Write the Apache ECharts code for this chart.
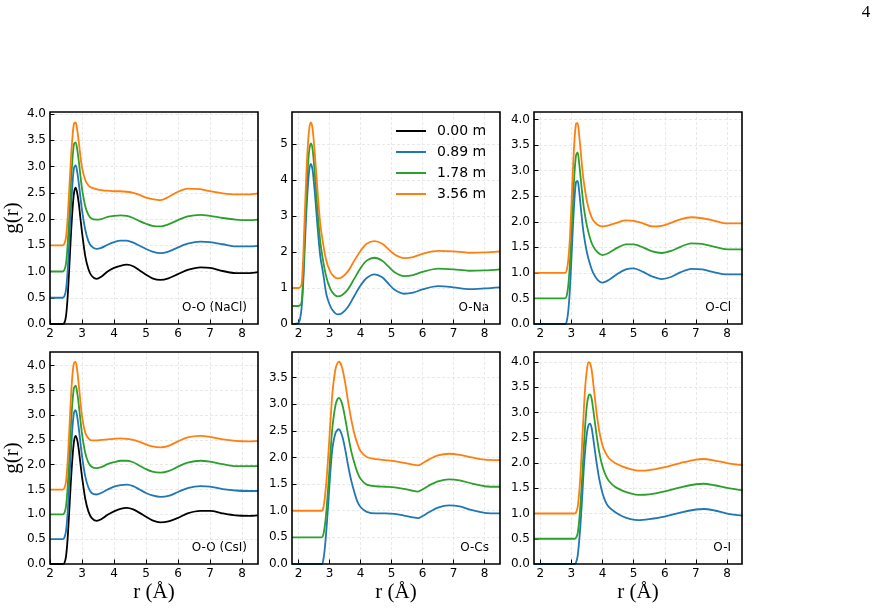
<!DOCTYPE html>
<html>
<head>
<meta charset="utf-8">
<script src="https://cdn.jsdelivr.net/npm/echarts@6/dist/echarts.min.js"></script>
<style>html,body{margin:0;padding:0;background:#fff}#c{width:878px;height:608px}</style>
</head>
<body>
<div id="c"></div>
<script>
// ---------- data ----------
const seriesNames = ['0.00 m', '0.89 m', '1.78 m', '3.56 m'];
const panelLabels = ['O-O (NaCl)', 'O-Na', 'O-Cl', 'O-O (CsI)', 'O-Cs', 'O-I'];

const rOO = [2.0, 2.4, 2.45, 2.5, 2.55, 2.6, 2.65, 2.7, 2.75, 2.8, 2.85, 2.9, 2.95, 3.0, 3.1, 3.2, 3.3, 3.45, 3.6, 3.8, 4.0, 4.2, 4.4, 4.6, 4.8, 5.0, 5.2, 5.45, 5.7, 6.0, 6.3, 6.7, 7.0, 7.4, 7.8, 8.2, 8.5];
const naclBlack = [0, 0, 0.02, 0.15, 0.5, 1.05, 1.65, 2.15, 2.5, 2.6, 2.5, 2.3, 2.02, 1.75, 1.3, 1.05, 0.92, 0.86, 0.9, 1.0, 1.07, 1.11, 1.13, 1.1, 1.02, 0.94, 0.87, 0.84, 0.87, 0.95, 1.03, 1.08, 1.07, 1.01, 0.97, 0.97, 0.99];
const naclBlue = [0.5, 0.5, 0.53, 0.65, 1.0, 1.55, 2.15, 2.65, 2.98, 3.02, 2.9, 2.68, 2.42, 2.17, 1.8, 1.58, 1.48, 1.43, 1.45, 1.51, 1.56, 1.59, 1.59, 1.55, 1.49, 1.43, 1.38, 1.35, 1.38, 1.46, 1.53, 1.57, 1.56, 1.52, 1.48, 1.48, 1.49];
const naclGreen = [1.0, 1.0, 1.03, 1.15, 1.5, 2.05, 2.65, 3.12, 3.43, 3.46, 3.33, 3.1, 2.83, 2.58, 2.25, 2.08, 2.01, 1.99, 2.0, 2.04, 2.06, 2.07, 2.06, 2.02, 1.96, 1.91, 1.87, 1.86, 1.9, 1.98, 2.05, 2.08, 2.06, 2.02, 1.99, 1.98, 1.99];
const naclOrange = [1.5, 1.5, 1.53, 1.65, 2.0, 2.55, 3.1, 3.55, 3.82, 3.84, 3.7, 3.47, 3.2, 2.98, 2.75, 2.64, 2.6, 2.57, 2.55, 2.54, 2.53, 2.53, 2.52, 2.5, 2.46, 2.41, 2.38, 2.36, 2.42, 2.52, 2.58, 2.57, 2.53, 2.49, 2.47, 2.47, 2.49];

const csiBlack = [0, 0, 0.02, 0.15, 0.5, 1.05, 1.63, 2.12, 2.47, 2.58, 2.5, 2.3, 2.03, 1.76, 1.32, 1.06, 0.93, 0.87, 0.9, 0.99, 1.06, 1.11, 1.13, 1.1, 1.03, 0.95, 0.88, 0.84, 0.86, 0.93, 1.02, 1.07, 1.07, 1.02, 0.98, 0.97, 0.98];
const csiBlue = [0.5, 0.5, 0.53, 0.66, 1.02, 1.6, 2.22, 2.73, 3.05, 3.1, 2.97, 2.73, 2.45, 2.18, 1.77, 1.54, 1.43, 1.4, 1.43, 1.5, 1.56, 1.59, 1.6, 1.57, 1.5, 1.43, 1.38, 1.35, 1.37, 1.45, 1.53, 1.57, 1.56, 1.51, 1.48, 1.47, 1.47];
const csiGreen = [1.0, 1.0, 1.03, 1.16, 1.53, 2.12, 2.75, 3.25, 3.55, 3.59, 3.45, 3.2, 2.9, 2.62, 2.24, 2.04, 1.96, 1.93, 1.95, 2.01, 2.05, 2.08, 2.08, 2.05, 1.98, 1.91, 1.86, 1.84, 1.87, 1.96, 2.04, 2.08, 2.06, 2.01, 1.97, 1.97, 1.97];
const csiOrange = [1.5, 1.5, 1.53, 1.66, 2.05, 2.65, 3.3, 3.8, 4.05, 4.07, 3.9, 3.6, 3.27, 2.98, 2.65, 2.53, 2.49, 2.49, 2.5, 2.51, 2.52, 2.53, 2.52, 2.5, 2.46, 2.41, 2.37, 2.35, 2.38, 2.47, 2.55, 2.58, 2.56, 2.51, 2.48, 2.47, 2.48];

const rNa = [1.8, 2.0, 2.05, 2.1, 2.15, 2.2, 2.25, 2.3, 2.35, 2.4, 2.45, 2.5, 2.55, 2.6, 2.7, 2.8, 2.9, 3.0, 3.1, 3.25, 3.4, 3.6, 3.8, 4.0, 4.2, 4.45, 4.7, 4.9, 5.1, 5.4, 5.7, 6.0, 6.5, 7.0, 7.5, 8.0, 8.5];
const naBlue = [0, 0.03, 0.15, 0.45, 1.1, 2.1, 3.05, 3.8, 4.3, 4.45, 4.3, 3.9, 3.4, 2.85, 1.9, 1.38, 0.82, 0.55, 0.38, 0.27, 0.3, 0.48, 0.78, 1.07, 1.28, 1.38, 1.3, 1.12, 0.95, 0.84, 0.87, 0.96, 1.05, 1.02, 0.97, 0.99, 1.02];
const naGreen = [0.5, 0.5, 0.52, 0.6, 1.3, 2.45, 3.5, 4.35, 4.85, 5.02, 4.88, 4.45, 3.9, 3.3, 2.3, 1.72, 1.3, 1.03, 0.87, 0.77, 0.8, 0.97, 1.26, 1.55, 1.76, 1.84, 1.76, 1.6, 1.44, 1.33, 1.36, 1.45, 1.54, 1.52, 1.48, 1.49, 1.52];
const naOrange = [1.0, 1.0, 1.02, 1.1, 1.8, 3.0, 4.1, 4.95, 5.45, 5.6, 5.45, 5.0, 4.45, 3.85, 2.8, 2.2, 1.75, 1.5, 1.36, 1.27, 1.3, 1.47, 1.76, 2.03, 2.23, 2.30, 2.23, 2.08, 1.93, 1.83, 1.86, 1.95, 2.03, 2.02, 1.98, 1.99, 2.02];

const rCl = [1.8, 2.5, 2.8, 2.85, 2.9, 2.95, 3.0, 3.05, 3.1, 3.15, 3.2, 3.25, 3.3, 3.35, 3.4, 3.5, 3.6, 3.7, 3.85, 4.0, 4.2, 4.5, 4.75, 5.0, 5.3, 5.6, 5.9, 6.2, 6.5, 6.85, 7.2, 7.6, 8.0, 8.5];
const clBlue = [0, 0, 0, 0.05, 0.25, 0.65, 1.25, 1.9, 2.45, 2.78, 2.8, 2.6, 2.3, 2.0, 1.75, 1.4, 1.17, 1.0, 0.86, 0.81, 0.86, 0.99, 1.07, 1.09, 1.02, 0.93, 0.88, 0.92, 1.01, 1.08, 1.07, 1.01, 0.97, 0.97];
const clGreen = [0.5, 0.5, 0.5, 0.55, 0.75, 1.15, 1.75, 2.4, 2.95, 3.3, 3.36, 3.15, 2.85, 2.55, 2.28, 1.92, 1.68, 1.52, 1.4, 1.35, 1.39, 1.5, 1.56, 1.56, 1.5, 1.42, 1.39, 1.43, 1.51, 1.58, 1.57, 1.51, 1.46, 1.46];
const clOrange = [1.0, 1.0, 1.0, 1.05, 1.25, 1.65, 2.3, 3.0, 3.6, 3.92, 3.93, 3.7, 3.38, 3.05, 2.78, 2.4, 2.17, 2.03, 1.94, 1.91, 1.93, 1.99, 2.03, 2.02, 1.97, 1.91, 1.92, 1.98, 2.05, 2.09, 2.07, 2.02, 1.97, 1.97];

const rCs = [1.8, 2.5, 2.75, 2.8, 2.85, 2.9, 2.95, 3.0, 3.05, 3.1, 3.2, 3.3, 3.4, 3.5, 3.6, 3.7, 3.8, 3.9, 4.0, 4.2, 4.5, 4.8, 5.1, 5.4, 5.65, 5.85, 6.0, 6.2, 6.5, 6.85, 7.2, 7.6, 8.0, 8.5];
const csBlue = [0, 0, 0, 0.08, 0.3, 0.65, 1.05, 1.5, 1.9, 2.2, 2.47, 2.53, 2.42, 2.17, 1.85, 1.57, 1.35, 1.17, 1.07, 0.98, 0.95, 0.95, 0.94, 0.91, 0.88, 0.86, 0.9, 0.97, 1.06, 1.10, 1.08, 1.01, 0.96, 0.95];
const csGreen = [0.5, 0.5, 0.5, 0.55, 0.72, 1.0, 1.38, 1.8, 2.25, 2.6, 3.0, 3.12, 3.02, 2.75, 2.42, 2.12, 1.9, 1.72, 1.6, 1.49, 1.46, 1.45, 1.44, 1.41, 1.38, 1.36, 1.4, 1.47, 1.55, 1.59, 1.57, 1.51, 1.46, 1.45];
const csOrange = [1.0, 1.0, 1.0, 1.05, 1.25, 1.55, 1.95, 2.4, 2.85, 3.25, 3.68, 3.80, 3.7, 3.42, 3.05, 2.72, 2.45, 2.26, 2.12, 2.01, 1.97, 1.95, 1.93, 1.9, 1.87, 1.85, 1.89, 1.96, 2.04, 2.07, 2.05, 2.0, 1.96, 1.95];

const rI = [1.8, 2.5, 3.1, 3.15, 3.2, 3.25, 3.3, 3.35, 3.4, 3.45, 3.5, 3.55, 3.6, 3.65, 3.7, 3.8, 3.9, 4.0, 4.1, 4.2, 4.4, 4.65, 4.9, 5.15, 5.5, 6.0, 6.5, 7.0, 7.25, 7.6, 8.0, 8.5];
const iBlue = [0, 0, 0, 0.03, 0.15, 0.45, 0.85, 1.35, 1.9, 2.3, 2.6, 2.75, 2.78, 2.7, 2.5, 2.05, 1.67, 1.4, 1.23, 1.13, 1.03, 0.94, 0.89, 0.87, 0.89, 0.94, 1.02, 1.08, 1.09, 1.06, 1.0, 0.96];
const iGreen = [0.5, 0.5, 0.5, 0.52, 0.6, 0.85, 1.25, 1.75, 2.3, 2.8, 3.15, 3.33, 3.36, 3.28, 3.07, 2.6, 2.2, 1.93, 1.76, 1.65, 1.53, 1.45, 1.4, 1.37, 1.38, 1.44, 1.52, 1.58, 1.59, 1.56, 1.51, 1.46];
const iOrange = [1.0, 1.0, 1.0, 1.02, 1.12, 1.4, 1.85, 2.45, 3.05, 3.55, 3.85, 4.0, 3.98, 3.85, 3.6, 3.05, 2.62, 2.35, 2.2, 2.1, 2.0, 1.93, 1.88, 1.85, 1.86, 1.92, 2.0, 2.07, 2.08, 2.05, 2.0, 1.96];

// ---------- layout / style ----------
const colors = ['#000000', '#1f77b4', '#2ca02c', '#ff7f0e'];
const panels = [
  { r: rOO, ys: [naclBlack, naclBlue, naclGreen, naclOrange], xmin: 2, xmax: 8.5, ymax: 4.04, yint: 0.5, dec: 1 },
  { r: rNa, ys: [null, naBlue, naGreen, naOrange], xmin: 1.79, xmax: 8.5, ymax: 5.89, yint: 1, dec: 0 },
  { r: rCl, ys: [null, clBlue, clGreen, clOrange], xmin: 1.8, xmax: 8.48, ymax: 4.15, yint: 0.5, dec: 1 },
  { r: rOO, ys: [csiBlack, csiBlue, csiGreen, csiOrange], xmin: 2, xmax: 8.5, ymax: 4.27, yint: 0.5, dec: 1 },
  { r: rCs, ys: [null, csBlue, csGreen, csOrange], xmin: 1.79, xmax: 8.5, ymax: 3.98, yint: 0.5, dec: 1 },
  { r: rI, ys: [null, iBlue, iGreen, iOrange], xmin: 1.8, xmax: 8.48, ymax: 4.2, yint: 0.5, dec: 1 }
];
const lefts = [50, 292, 534];
const tops = [112, 352];
const W = 208, H = 212;

const tickFont = { fontFamily: 'DejaVu Sans', fontSize: 12, color: '#000' };
const grid = [], xAxis = [], yAxis = [], series = [], graphic = [];
const splitLine = { show: true, showMinLine: false, showMaxLine: false,
                    lineStyle: { color: '#e3e3e3', width: 0.8, type: [3, 2] } };

panels.forEach((p, i) => {
  const col = i % 3, row = Math.floor(i / 3);
  const gl = lefts[col], gt = tops[row];
  grid.push({ left: gl, top: gt, width: W, height: H, show: false,
              outerBoundsMode: 'none', containLabel: false });
  const xa = {
    type: 'value', gridIndex: i, min: p.xmin, max: p.xmax,
    axisLine: { show: false },
    axisTick: { show: true, inside: true, length: 4.5, lineStyle: { color: '#000', width: 1 } },
    axisLabel: Object.assign({ margin: 4, showMinLabel: p.xmin === 2, showMaxLabel: false,
      formatter: v => String(Math.round(v)) }, tickFont),
    splitLine: splitLine
  };
  if (p.xmin === 2) { xa.interval = 1; } else { xa.splitNumber = 7; }
  if (row === 1) {
    xa.name = 'r (Å)'; xa.nameLocation = 'middle'; xa.nameGap = 18;
    xa.nameTextStyle = { fontFamily: 'Liberation Serif', fontSize: 21, color: '#000' };
  }
  xAxis.push(xa);
  const ya = {
    type: 'value', gridIndex: i, min: 0, max: p.ymax, interval: p.yint,
    axisLine: { show: false },
    axisTick: { show: true, inside: true, length: 4.5, lineStyle: { color: '#000', width: 1 } },
    axisLabel: Object.assign({ margin: 4, showMaxLabel: false,
      formatter: v => v.toFixed(p.dec) }, tickFont),
    splitLine: splitLine
  };
  if (col === 0) {
    ya.name = 'g(r)'; ya.nameLocation = 'middle'; ya.nameGap = 23;
    ya.nameTextStyle = { fontFamily: 'Liberation Serif', fontSize: 21, color: '#000' };
  }
  yAxis.push(ya);
  p.ys.forEach((vals, k) => {
    if (!vals) return;
    series.push({
      name: seriesNames[k], type: 'line', xAxisIndex: i, yAxisIndex: i,
      data: p.r.map((x, j) => [x, vals[j]]),
      showSymbol: false, smooth: 0.3, clip: true,
      lineStyle: { color: colors[k], width: 1.8 }, itemStyle: { color: colors[k] },
      emphasis: { disabled: true }, z: 2 + k
    });
  });
  // panel frame (spines)
  graphic.push({
    type: 'rect', z: 100, silent: true,
    shape: { x: gl, y: gt, width: W, height: H },
    style: { fill: null, stroke: '#000', lineWidth: 1.6 }
  });
  graphic.push({
    type: 'text', x: gl + W - 11, y: gt + H - 16.5,
    style: { text: panelLabels[i], textAlign: 'right', textVerticalAlign: 'middle',
             font: '12px "DejaVu Sans"', fill: '#000' }
  });
});

graphic.push({
  type: 'text', x: 866, y: 13,
  style: { text: '4', textAlign: 'center', textVerticalAlign: 'middle', font: '17px "Liberation Serif"', fill: '#000' }
});

const chart = echarts.init(document.getElementById('c'), null, { renderer: 'canvas' });
chart.setOption({
  animation: false,
  backgroundColor: '#fff',
  grid, xAxis, yAxis, series, graphic,
  legend: {
    data: seriesNames, orient: 'vertical', left: 396, top: 124, padding: 0,
    icon: 'rect', itemWidth: 30, itemHeight: 2, itemGap: 7,
    textStyle: { fontFamily: 'DejaVu Sans', fontSize: 14, color: '#000', padding: [0, 0, 0, 6] },
    selectedMode: false
  }
});
</script>
</body>
</html>
